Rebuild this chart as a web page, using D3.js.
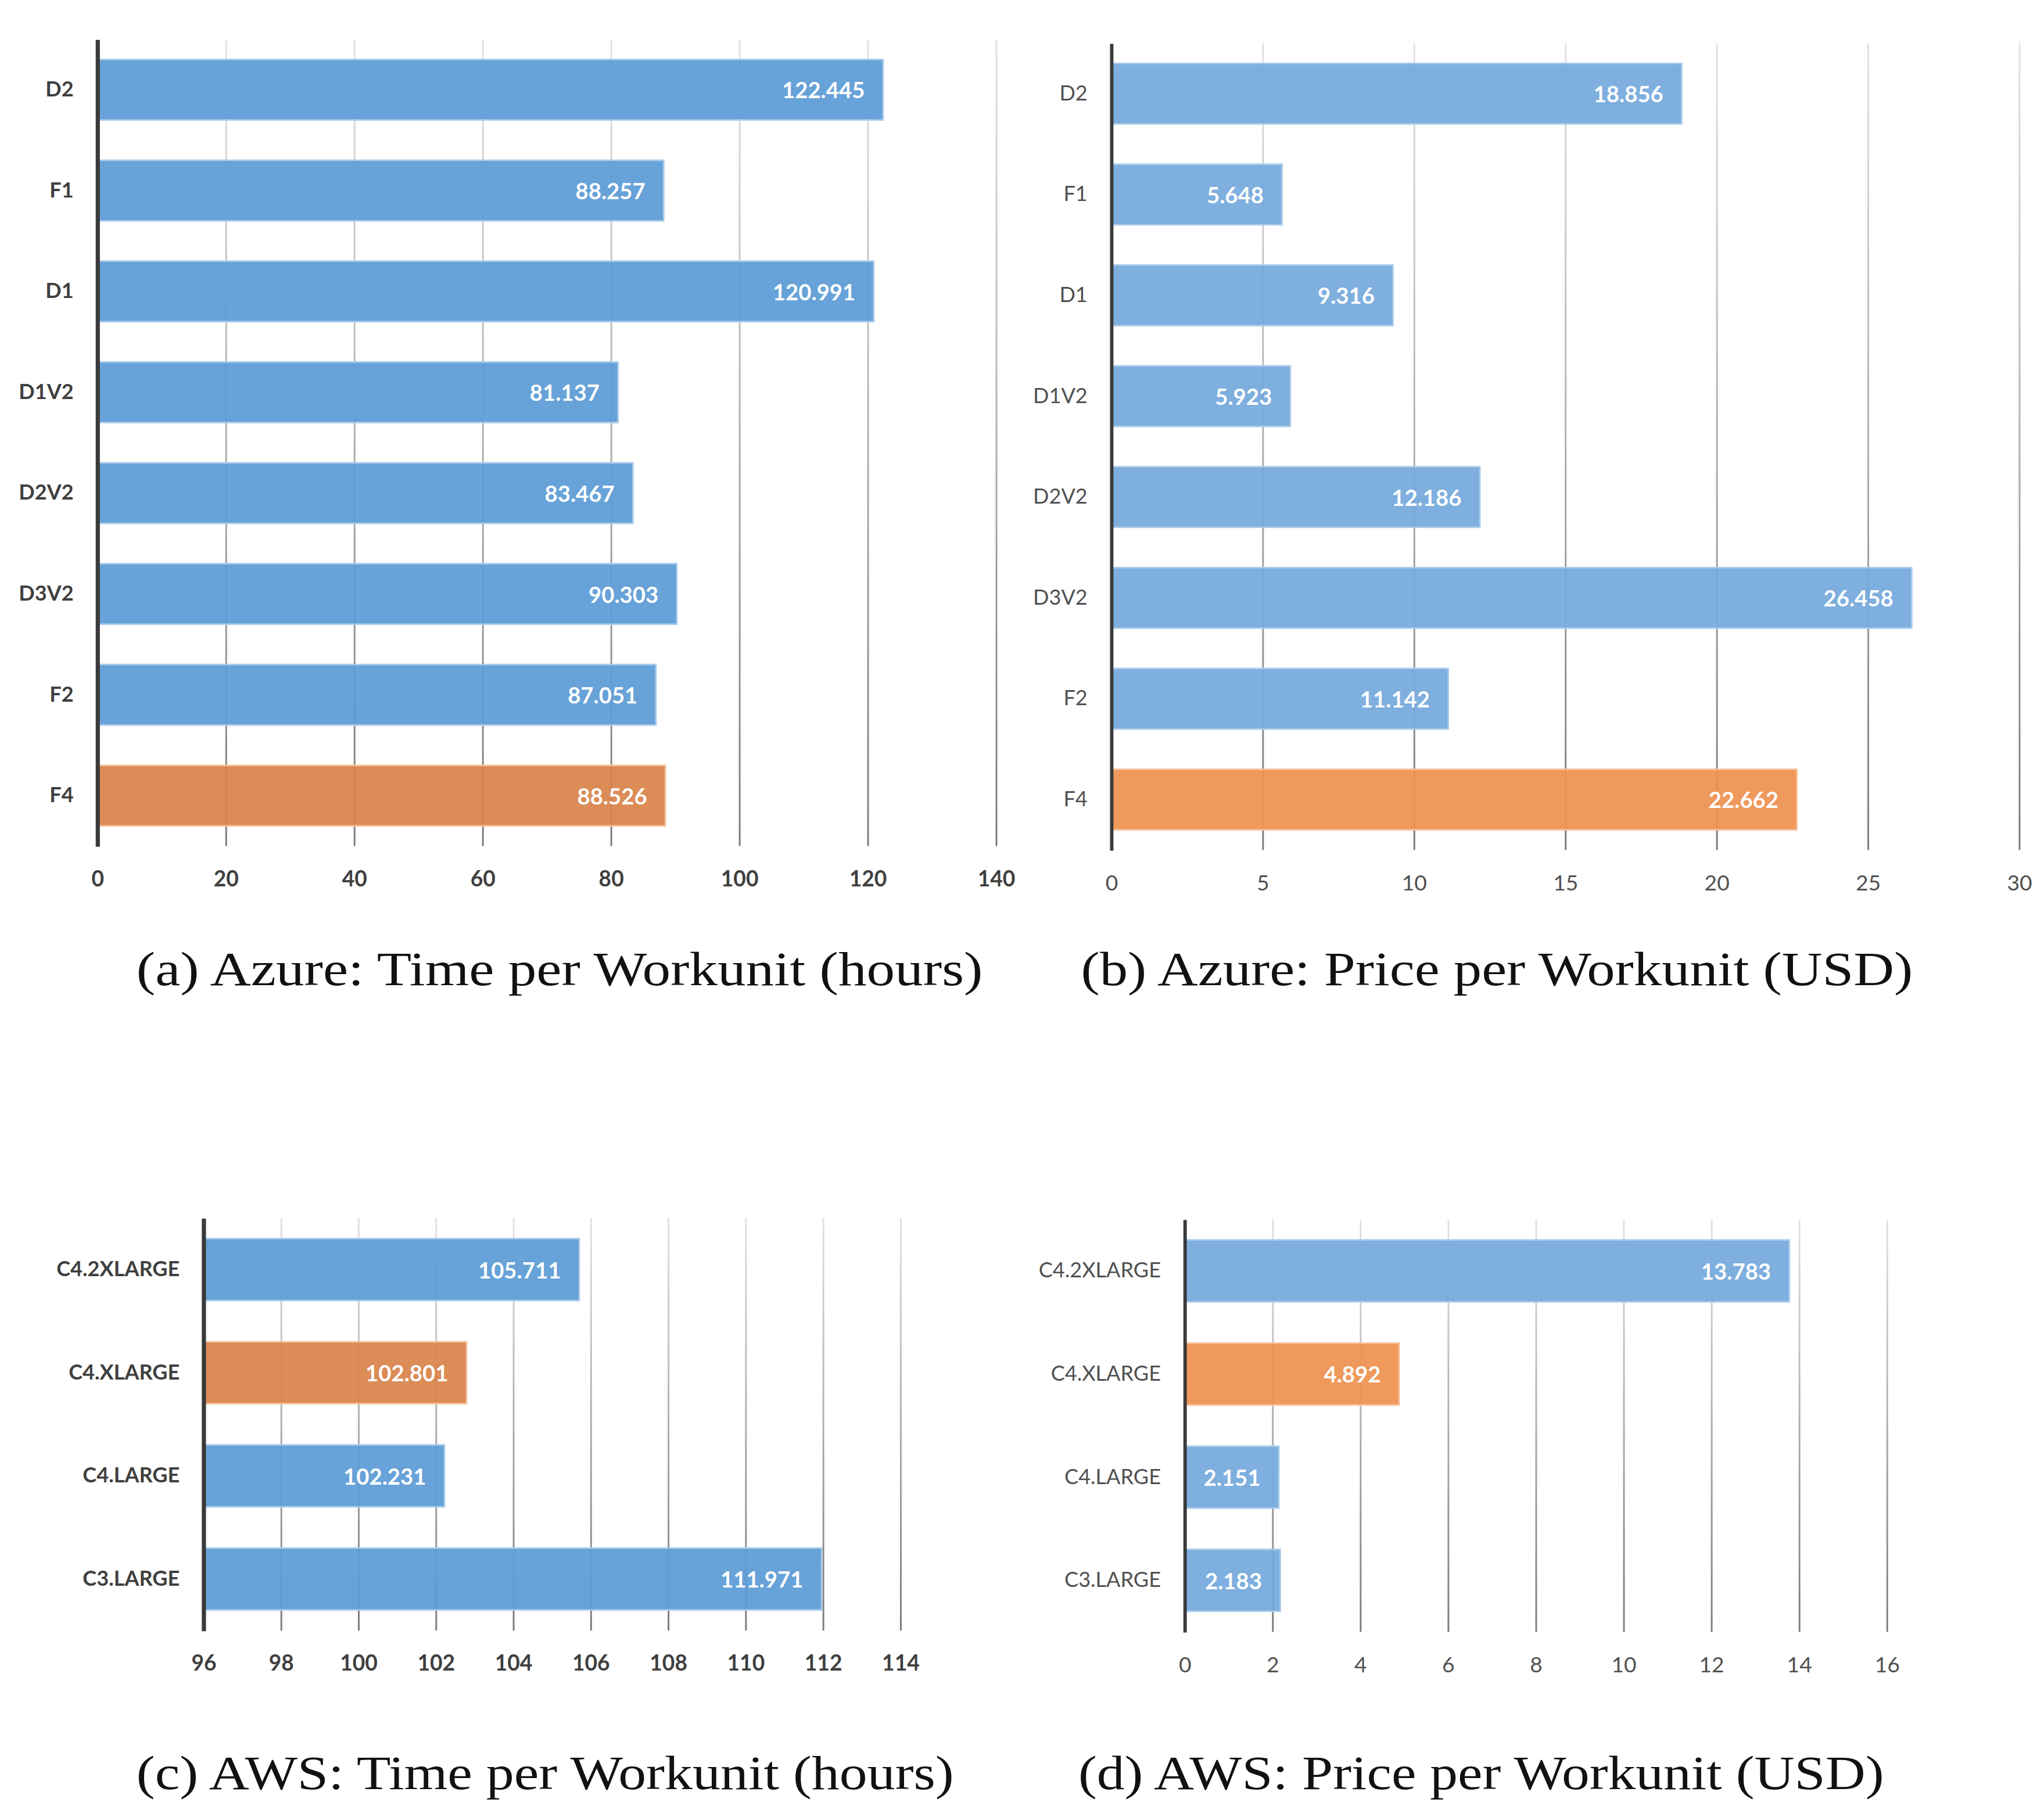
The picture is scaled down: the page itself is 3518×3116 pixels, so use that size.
<!DOCTYPE html>
<html>
<head>
<meta charset="utf-8">
<script src="https://cdn.jsdelivr.net/npm/d3@7"></script>
<style>
  body { margin: 0; background: #fff; }
  svg { display: block; }
</style>
</head>
<body>
<div id="chart"></div>
<script>
// values
const azureTypes = ["D2", "F1", "D1", "D1V2", "D2V2", "D3V2", "F2", "F4"];
const azureTime = [122.445, 88.257, 120.991, 81.137, 83.467, 90.303, 87.051, 88.526];
const azurePrice = [18.856, 5.648, 9.316, 5.923, 12.186, 26.458, 11.142, 22.662];
const awsTypes = ["C4.2XLARGE", "C4.XLARGE", "C4.LARGE", "C3.LARGE"];
const awsTime = [105.711, 102.801, 102.231, 111.971];
const awsPrice = [13.783, 4.892, 2.151, 2.183];

const azureTimeTicks = [0, 20, 40, 60, 80, 100, 120, 140];
const azurePriceTicks = [0, 5, 10, 15, 20, 25, 30];
const awsTimeTicks = [96, 98, 100, 102, 104, 106, 108, 110, 112, 114];
const awsPriceTicks = [0, 2, 4, 6, 8, 10, 12, 14, 16];

const highlighted = ["F4", "C4.XLARGE"];

const captions = [
  "(a) Azure: Time per Workunit (hours)",
  "(b) Azure: Price per Workunit (USD)",
  "(c) AWS: Time per Workunit (hours)",
  "(d) AWS: Price per Workunit (USD)"
];

// drawing is done in a 1560 x 1382 box, scaled up to the window
const svg = d3.select("#chart")
  .append("svg")
  .attr("width", 3518)
  .attr("height", 3116)
  .attr("viewBox", "0 0 1560 1382")

const defs = svg.append("defs")

const panels = [
  {id: "a", cats: azureTypes, vals: azureTime, ticks: azureTimeTicks,
   left: 74, right: 760, top: 30, bottom: 646, bold: true,
   blue: "#5B9BD5", orange: "#D8834A", axisW: 3.2,
   cap: captions[0], capX: 104, capY: 752, capW: 646},
  {id: "b", cats: azureTypes, vals: azurePrice, ticks: azurePriceTicks,
   left: 848, right: 1541, top: 33, bottom: 649, bold: false,
   blue: "#74A9DB", orange: "#EE9150", axisW: 2.6,
   cap: captions[1], capX: 825, capY: 752, capW: 635},
  {id: "c", cats: awsTypes, vals: awsTime, ticks: awsTimeTicks,
   left: 155, right: 687, top: 930, bottom: 1245, bold: true,
   blue: "#5B9BD5", orange: "#D8834A", axisW: 3.2,
   cap: captions[2], capX: 104, capY: 1366, capW: 624},
  {id: "d", cats: awsTypes, vals: awsPrice, ticks: awsPriceTicks,
   left: 904, right: 1440, top: 931, bottom: 1246, bold: false,
   blue: "#74A9DB", orange: "#EE9150", axisW: 2.6,
   cap: captions[3], capX: 823, capY: 1366, capW: 615}
];

panels.forEach(p => drawPanel(p));

function drawPanel(p) {
  const h = p.bottom - p.top;
  const weight = p.bold ? "bold" : "normal";
  const textCol = p.bold ? "#3f3f3f" : "#505050";

  const xScale = d3.scaleLinear()
    .domain([p.ticks[0], p.ticks[p.ticks.length - 1]])
    .range([p.left, p.right]);

  const yScale = d3.scaleBand()
    .domain(p.cats)
    .range([p.top, p.bottom])
    .paddingInner(0.4)
    .paddingOuter(0.2);

  // gridlines fade from light at the top to darker at the bottom
  const grad = defs.append("linearGradient")
    .attr("id", "grid-" + p.id)
    .attr("gradientUnits", "userSpaceOnUse")
    .attr("x1", 0).attr("y1", 0)
    .attr("x2", 0).attr("y2", -h);
  grad.append("stop").attr("offset", "0%").attr("stop-color", "#7a7a7a");
  grad.append("stop").attr("offset", "45%").attr("stop-color", "#a8a8a8");
  grad.append("stop").attr("offset", "100%").attr("stop-color", "#e2e2e2");

  const xAxis = d3.axisBottom(xScale)
    .tickValues(p.ticks)
    .tickSizeInner(-h)
    .tickSizeOuter(0)
    .tickPadding(19)
    .tickFormat(d3.format("d"));

  const xg = svg.append("g")
    .attr("transform", `translate(0, ${p.bottom})`)
    .call(xAxis);
  xg.select(".domain").remove();
  xg.selectAll(".tick line")
    .attr("stroke", `url(#grid-${p.id})`)
    .attr("stroke-width", 1.3);
  xg.selectAll(".tick text")
    .attr("font-family", "Lato, 'Open Sans', sans-serif")
    .attr("font-size", 16.5)
    .attr("font-weight", weight)
    .attr("fill", textCol);

  // bars
  svg.append("g")
    .selectAll("rect")
    .data(p.cats.map((c, i) => ({cat: c, val: p.vals[i]})))
    .enter()
    .append("rect")
    .attr("x", xScale(p.ticks[0]))
    .attr("y", d => yScale(d.cat))
    .attr("width", d => xScale(d.val) - xScale(p.ticks[0]))
    .attr("height", yScale.bandwidth())
    .attr("fill", d => highlighted.includes(d.cat) ? p.orange : p.blue)
    .attr("fill-opacity", 0.93)
    .attr("stroke", d => highlighted.includes(d.cat) ? "#f6c29c" : "#a9cbeb")
    .attr("stroke-width", 1.2);

  // category axis
  const yAxis = d3.axisLeft(yScale)
    .tickSize(0)
    .tickPadding(18);

  const yg = svg.append("g")
    .attr("transform", `translate(${p.left}, 0)`)
    .call(yAxis);
  yg.select(".domain")
    .attr("stroke", "#3a3a3a")
    .attr("stroke-width", p.axisW);
  yg.selectAll(".tick text")
    .attr("font-family", "Lato, 'Open Sans', sans-serif")
    .attr("font-size", 16)
    .attr("font-weight", weight)
    .attr("fill", textCol);

  // value labels inside the bar ends
  svg.append("g")
    .selectAll("text")
    .data(p.cats.map((c, i) => ({cat: c, val: p.vals[i]})))
    .enter()
    .append("text")
    .attr("x", d => xScale(d.val) - 14)
    .attr("y", d => yScale(d.cat) + yScale.bandwidth() / 2)
    .attr("text-anchor", "end")
    .attr("dominant-baseline", "central")
    .attr("font-family", "Lato, 'Open Sans', sans-serif")
    .attr("font-size", 17)
    .attr("font-weight", "bold")
    .attr("fill", "#ffffff")
    .text(d => d3.format(".3f")(d.val));

  // caption under the panel
  svg.append("text")
    .attr("x", p.capX)
    .attr("y", p.capY)
    .attr("font-family", "'Liberation Serif', 'DejaVu Serif', serif")
    .attr("font-size", 36.5)
    .attr("fill", "#111")
    .attr("textLength", p.capW)
    .attr("lengthAdjust", "spacingAndGlyphs")
    .text(p.cap);
}
</script>
</body>
</html>
